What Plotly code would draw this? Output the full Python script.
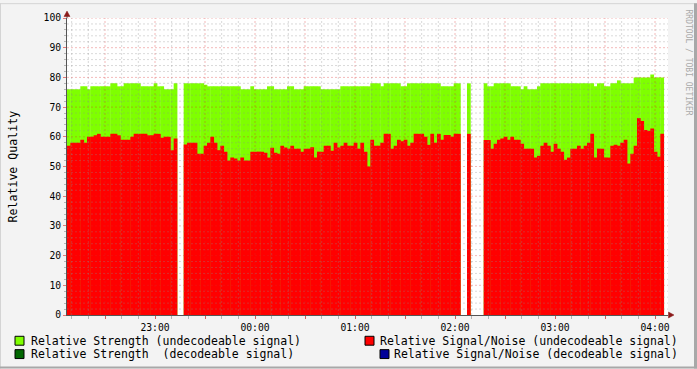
import pandas as pd
import plotly.graph_objects as go

# ---- data (2-minute steps starting 22:07:12) ----
start_time = "2012-01-01 22:07:12"
step_minutes = 2

strength_undecodeable = [
    76, 76, 76, 76, 77, 77, 76, 77, 77, 77,
    77, 77, 77, 78, 78, 77, 77, 78, 78, 78,
    78, 78, 77, 77, 77, 77, 78, 77, 77, 76,
    76, 76, 78, None, None, 78, 78, 78, 78, 78,
    78, 77.5, 77, 77, 77, 77, 77, 77, 77, 77,
    77, 77, 76, 76, 76, 77, 76, 76, 76, 76,
    77, 77, 76, 76, 76, 76, 77, 77, 76, 76,
    76, 77, 77, 77, 77, 77, 76, 76, 76, 76,
    76, 76, 77, 77, 77, 77, 77, 77, 77, 77,
    77, 78, 78, 78, 77, 78, 78, 78, 78, 78,
    77, 77, 78, 78, 78, 78, 78, 78, 78, 78,
    78, 78, 77, 77, 77, 77, 78, 78, None, None,
    78, None, None, None, None, 78, 77, 77, 78, 78,
    78, 78, 78, 77, 77, 77, 76, 77, 76, 76,
    76, 77, 78, 78, 78, 78, 78, 78, 78, 78,
    78, 78, 78, 78, 78, 78, 78, 78, 77, 78,
    78, 77, 77, 78, 78, 79, 78, 78, 78, 78,
    80, 80, 80, 80, 80, 81, 80, 80, 80,
]

snr_undecodeable = [
    57, 58, 58, 58, 59, 58, 60, 60, 60.5, 61,
    60, 60, 60, 61, 61, 60.5, 59, 59, 59, 60,
    61, 61, 61, 61, 60.5, 60.5, 61, 61, 59.7, 60,
    60, 55.5, 59.4, None, None, 57.4, 58, 58, 58, 54.3,
    54.3, 57, 58, 60, 58, 55.5, 57, 55, 52, 53,
    52.7, 52, 53, 52, 52, 55, 55, 55, 55, 54.6,
    53, 56.3, 54.6, 54.3, 57, 56.4, 56, 57, 56, 56,
    55, 56, 56, 56.5, 53, 55, 55, 57, 57, 55.3,
    58, 56.4, 57, 58, 57, 57, 58, 56, 58, 55,
    50, 59, 57, 57, 58, 61, 61, 56, 57, 59,
    58.5, 59, 57, 58, 61, 61, 61, 60, 57.3, 61,
    58, 61, 59, 60.6, 60.6, 60, 61, 61, None, None,
    61, None, None, None, None, 58.9, 58.9, 56, 57.7, 59,
    59.4, 60, 59, 60, 59, 59, 57.7, 56, 56, 56,
    53, 53.6, 57, 58, 57, 55, 57.7, 56, 55, 52.3,
    53, 56, 56, 57, 56, 57, 58, 61, 53, 56,
    56, 53, 53, 57, 57.3, 57, 58, 59, 51, 54.3,
    57, 66.3, 65.3, 62.3, 62, 62.8, 55, 53.3, 61,
]

legend_labels = [
    "Relative Strength (undecodeable signal)",
    "Relative Strength\u00a0\u00a0(decodeable signal)",
    "Relative Signal/Noise (undecodeable signal)",
    "Relative Signal/Noise (decodeable signal)",
]
legend_colors = ["#7FFF00", "#006600", "#FF0000", "#000099"]

times = pd.date_range(start=start_time, periods=len(snr_undecodeable), freq=f"{step_minutes}min")
x_range = ["2012-01-01 22:07:12", "2012-01-02 04:07:48"]

FONT = "DejaVu Sans Mono"
W, H = 697, 369
L, R, T, B = 67, 668, 15, 315


def px(x):
    return (x - L) / (R - L)


def py(y):
    return (B - y) / (B - T)


fig = go.Figure()
bar_w = step_minutes * 60 * 1000
fig.add_trace(go.Bar(x=times, y=strength_undecodeable, width=bar_w * 1.12, offset=0,
                     marker=dict(color="#7FFF00", line=dict(width=0)), name=legend_labels[0]))
fig.add_trace(go.Bar(x=times, y=snr_undecodeable, width=bar_w * 1.12, offset=0,
                     marker=dict(color="#FF0000", line=dict(width=0)), name=legend_labels[2]))

shapes = []
minor_col = "rgba(140,140,140,0.32)"
major_col = "rgba(220,40,40,0.32)"
dash = "2px,2px"
# vertical grid
for t in pd.date_range("2012-01-01 22:10", "2012-01-02 04:00", freq="10min"):
    if t.minute % 30 != 0:
        shapes.append(dict(type="line", xref="x", yref="y", x0=t, x1=t, y0=0, y1=100,
                           line=dict(color=minor_col, width=1, dash=dash), layer="above"))
for t in pd.date_range("2012-01-01 22:30", "2012-01-02 04:00", freq="30min"):
    shapes.append(dict(type="line", xref="x", yref="y", x0=t, x1=t, y0=0, y1=100,
                       line=dict(color=major_col, width=1, dash=dash), layer="above"))
# horizontal grid
for v in range(2, 101, 2):
    col = major_col if v % 10 == 0 else minor_col
    shapes.append(dict(type="line", xref="paper", yref="y", x0=0, x1=1, y0=v, y1=v,
                       line=dict(color=col, width=1, dash=dash), layer="above"))

axis_col = "#555555"
arrow_col = "#8B1A1A"
# axis extension + arrows
shapes.append(dict(type="line", xref="paper", yref="paper", x0=0, x1=0, y0=1, y1=py(10),
                   line=dict(color=axis_col, width=1), layer="above"))
shapes.append(dict(type="path", xref="paper", yref="paper",
                   path=f"M {px(64)},{py(13.5)} L {px(70)},{py(13.5)} L {px(67)},{py(8)} Z",
                   fillcolor=arrow_col, line=dict(color=arrow_col, width=0.5), layer="above"))
shapes.append(dict(type="path", xref="paper", yref="paper",
                   path=f"M {px(668.5)},{py(312)} L {px(668.5)},{py(318)} L {px(674)},{py(315)} Z",
                   fillcolor=arrow_col, line=dict(color=arrow_col, width=0.5), layer="above"))

# frame
shapes.append(dict(type="line", xref="paper", yref="paper", x0=px(0), x1=px(697), y0=py(0.5), y1=py(0.5),
                   line=dict(color="#D4D4D4", width=1)))
shapes.append(dict(type="line", xref="paper", yref="paper", x0=px(0.5), x1=px(0.5), y0=py(0), y1=py(369),
                   line=dict(color="#D4D4D4", width=1)))
shapes.append(dict(type="line", xref="paper", yref="paper", x0=px(0), x1=px(697), y0=py(368), y1=py(368),
                   line=dict(color="#A8A8A8", width=2)))
shapes.append(dict(type="line", xref="paper", yref="paper", x0=px(695.5), x1=px(695.5), y0=py(0), y1=py(369),
                   line=dict(color="#A8A8A8", width=3)))

annotations = []
# legend boxes + texts
legend_pos = [
    (15, 341, 30, "left"),
    (15, 354.5, 30, "left"),
    (365, 341, 679, "right"),
    (380, 354.5, 679, "right"),
]
for (bx, cy, tx, anchor), lab, col in zip(legend_pos, legend_labels, legend_colors):
    shapes.append(dict(type="rect", xref="paper", yref="paper",
                       x0=px(bx), x1=px(bx + 9), y0=py(cy - 4.5), y1=py(cy + 4.5),
                       fillcolor=col, line=dict(color="#000000", width=1)))
    annotations.append(dict(text=lab, xref="paper", yref="paper", x=px(tx), y=py(cy),
                            xanchor=anchor, yanchor="middle", showarrow=False, borderpad=0,
                            font=dict(family=FONT, size=11.5, color="#000000")))

annotations.append(dict(text="Relative Quality", xref="paper", yref="paper", x=px(12), y=py(165),
                        xanchor="center", yanchor="middle", textangle=-90, showarrow=False,
                        font=dict(family=FONT, size=11.6, color="#000000")))
annotations.append(dict(text="RRDTOOL / TOBI OETIKER", xref="paper", yref="paper", x=px(688), y=py(60),
                        xanchor="center", yanchor="middle", textangle=90, showarrow=False,
                        font=dict(family=FONT, size=8, color="#AAAAAA")))

major_ticks = list(pd.date_range("2012-01-01 22:30", "2012-01-02 04:00", freq="30min"))
major_text = [t.strftime("%H:%M") if t.minute == 0 else "" for t in major_ticks]

fig.update_layout(
    width=W, height=H,
    margin=dict(l=L, r=W - R, t=T, b=H - B, pad=0),
    paper_bgcolor="#F3F3F3", plot_bgcolor="#FFFFFF",
    barmode="overlay", showlegend=False,
    shapes=shapes, annotations=annotations,
    font=dict(family=FONT, size=9.7, color="#000000"),
    xaxis=dict(type="date", range=x_range, tickmode="array", tickvals=major_ticks, ticktext=major_text,
               ticks="outside", ticklen=3, tickcolor="rgba(220,40,40,0.6)",
               minor=dict(dtick=600000, tick0="2012-01-01 22:10", ticks="outside", ticklen=3,
                          tickcolor="rgba(140,140,140,0.6)", showgrid=False),
               showgrid=False, zeroline=False, showline=True, linecolor=axis_col, linewidth=1,
               layer="above traces", tickfont=dict(family=FONT, size=9.7)),
    yaxis=dict(range=[0, 100], dtick=10, tick0=0, ticks="outside", ticklen=3,
               tickcolor="rgba(220,40,40,0.6)",
               minor=dict(dtick=2, ticks="outside", ticklen=2, tickcolor="rgba(140,140,140,0.6)",
                          showgrid=False),
               showgrid=False, zeroline=False, showline=True, linecolor=axis_col, linewidth=1,
               layer="above traces", tickfont=dict(family=FONT, size=9.7)),
)

fig.write_html("out.html", config={"displayModeBar": False},
               post_script="document.body.style.margin='0px';document.body.style.overflow='hidden';")
